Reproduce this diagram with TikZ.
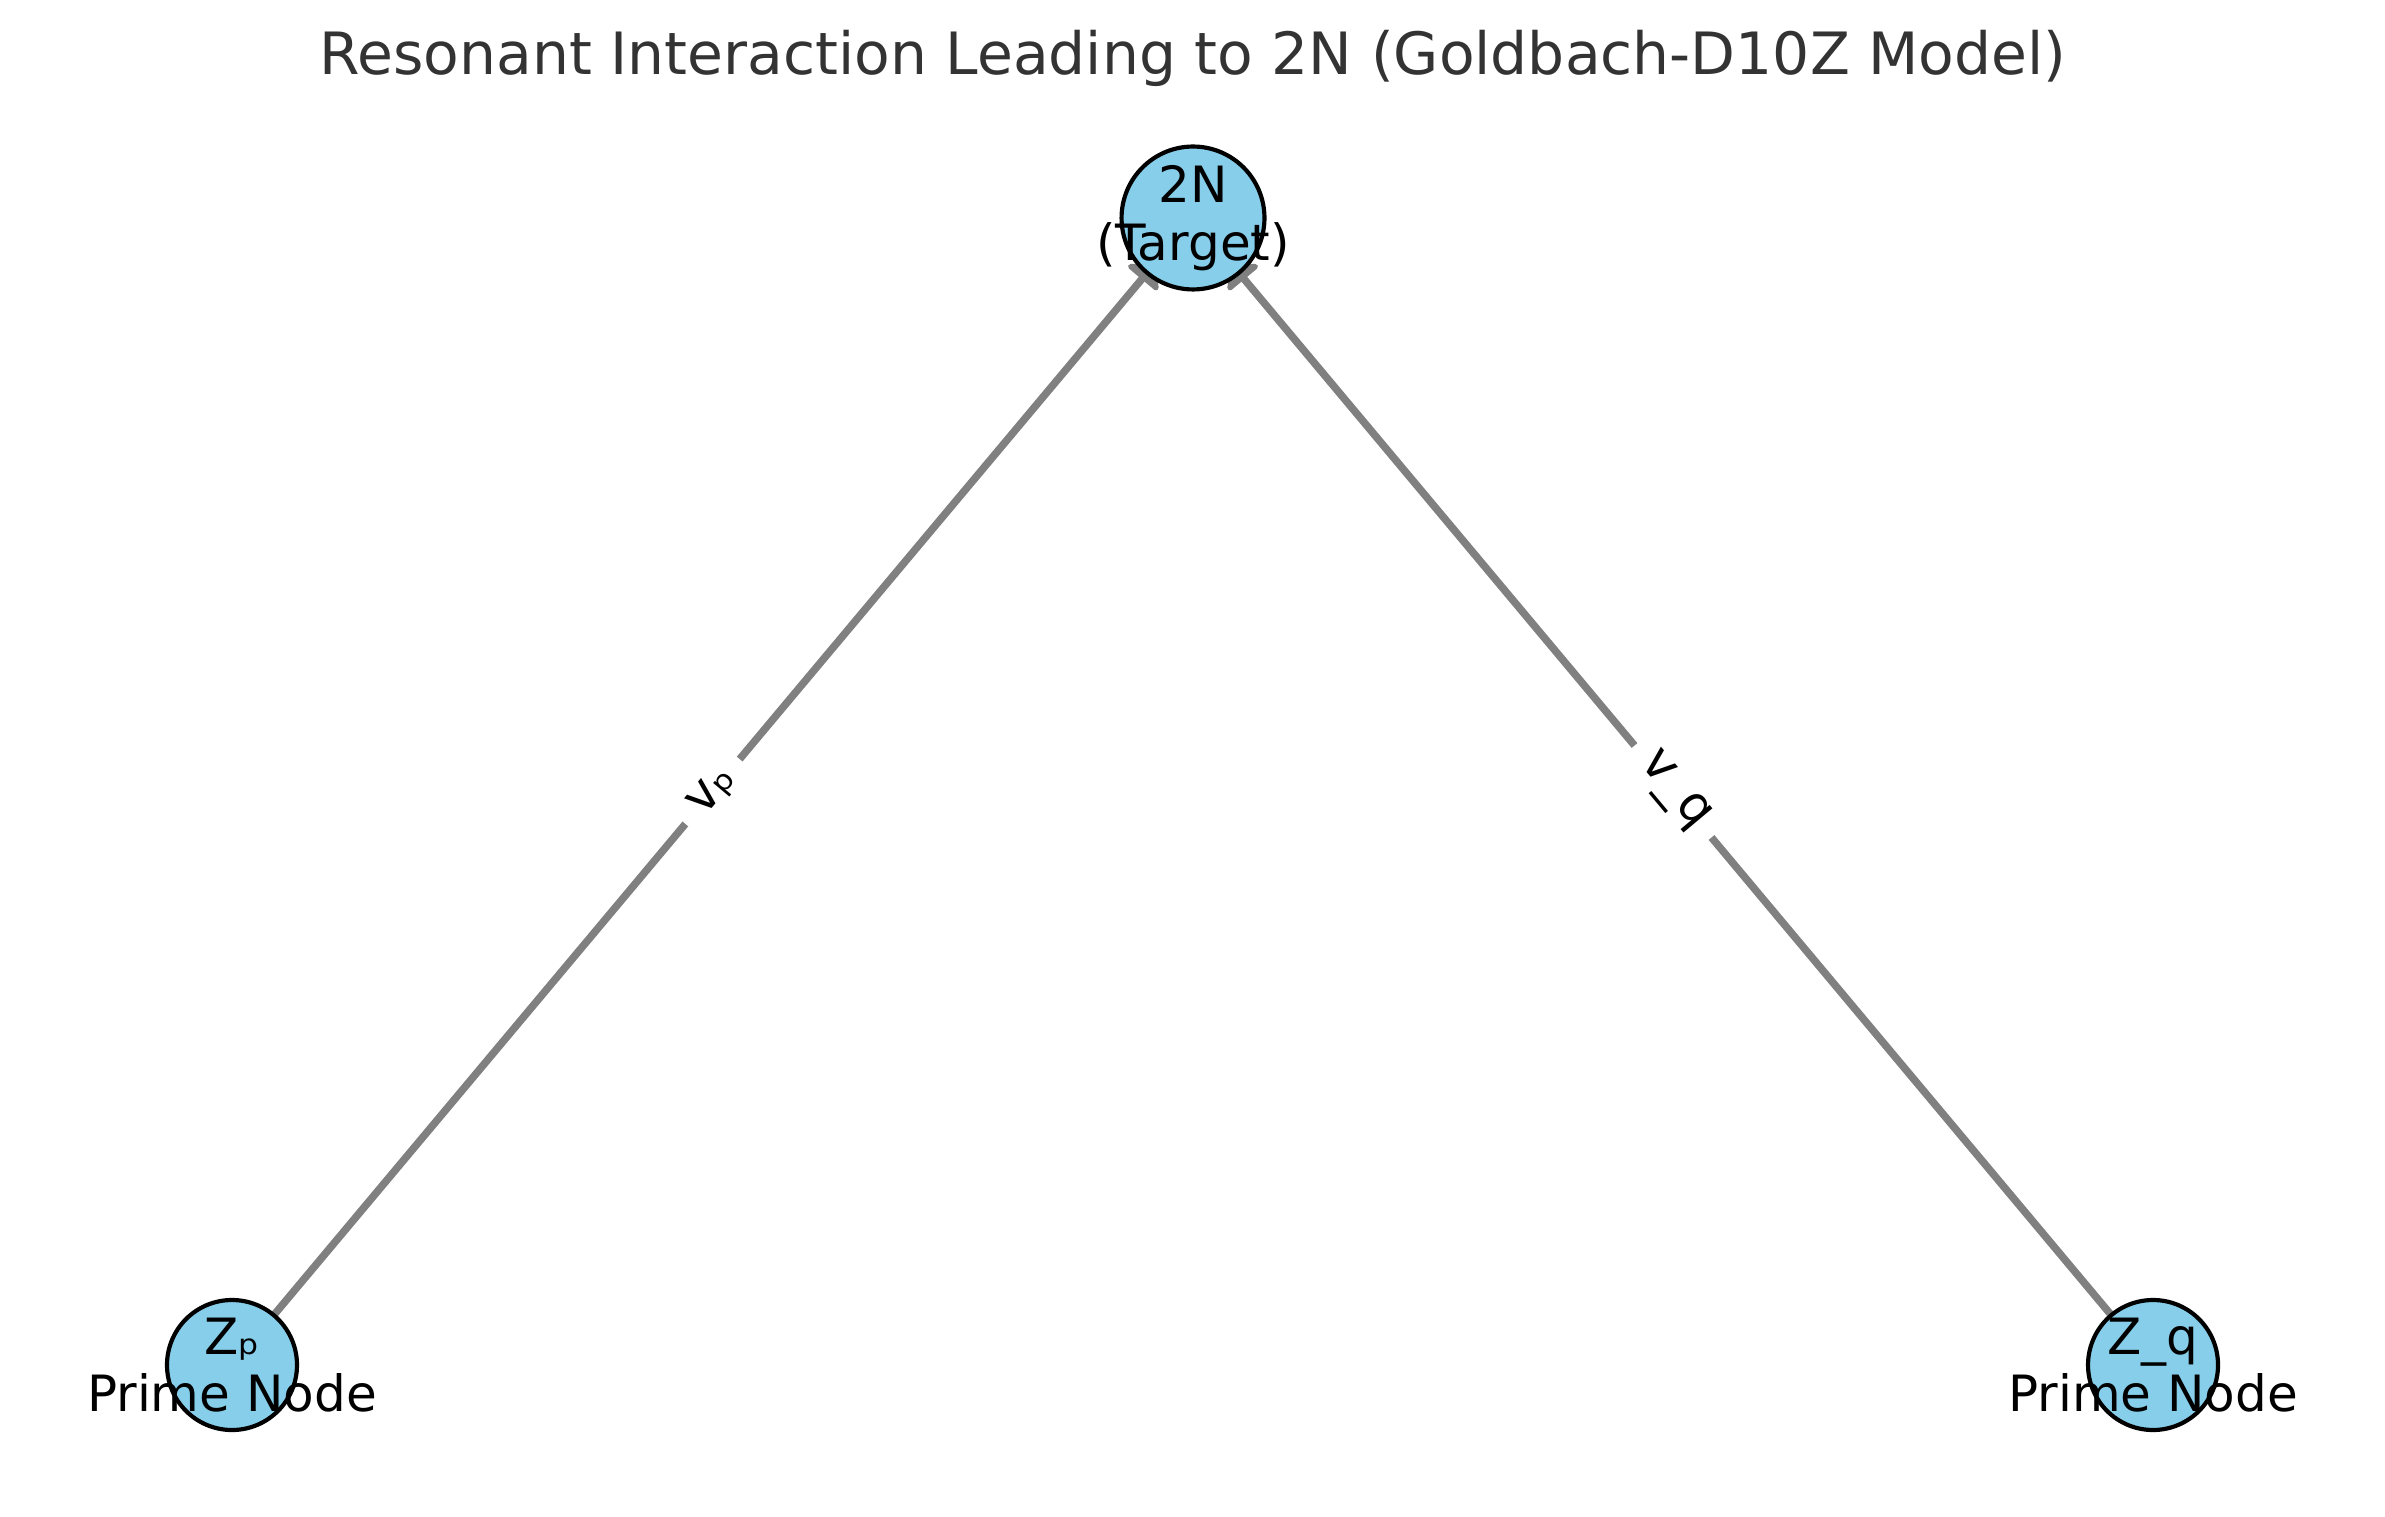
\documentclass[tikz,border=0pt]{standalone}
\usepackage{fontspec}
\setmainfont{DejaVu Sans}
\usepackage{xcolor}
\usepackage{tikz}
\usetikzlibrary{arrows.meta,backgrounds}
\definecolor{skyblue}{HTML}{87CEEB}
\definecolor{edgegray}{HTML}{808080}
\definecolor{titlegray}{HTML}{333333}

\begin{document}
\begin{tikzpicture}[x=0.24pt,y=0.24pt,
  prime/.style={circle, draw=black, line width=1pt, fill=skyblue, minimum size=31.2pt, inner sep=0pt},
  target/.style={prime, minimum size=34.3pt},
  nlabel/.style={align=center, inner sep=0pt, font=\fontsize{12}{13.8}\selectfont},
  link/.style={draw=edgegray, line width=1.8pt, line join=round, -{Triangle[length=5pt,width=11pt,round]}, shorten >=14.4pt},
  elabel/.style={fill=white, inner sep=4pt, sloped, pos=0.5, font=\fontsize{12}{14.4}\selectfont},
  ttl/.style={text=titlegray, inner sep=0pt, anchor=base, font=\fontsize{14}{16.8}\selectfont}]
\useasboundingbox (0,0) rectangle (2385,1516);
\node[ttl] (title) at (1193,1441) {Resonant Interaction Leading to 2N (Goldbach-D10Z Model)};
\node[target] (tn) at (1193,1298) {};
\node[prime] (zp) at (232,151) {};
\node[prime] (zq) at (2153,151) {};
\node[nlabel] (tnl) at (tn) {2N\\(Target)};
\node[nlabel] (zpl) at (zp) {Zₚ\\Prime Node};
\node[nlabel] (zql) at (zq) {Z\_q\\Prime Node};
\begin{pgfonlayer}{background}
\draw[link] (zp.center) -- node[elabel] (vp) {vₚ} (tn.center);
\draw[link] (zq.center) -- node[elabel] (vq) {v\_q} (tn.center);
\end{pgfonlayer}
\end{tikzpicture}
\end{document}
